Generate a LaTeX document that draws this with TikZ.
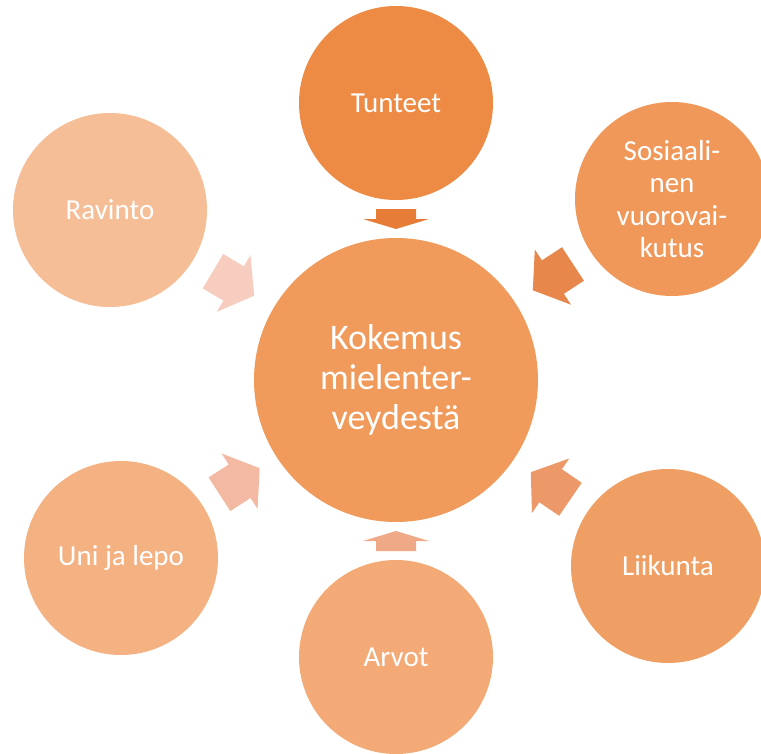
\documentclass[tikz,border=0pt]{standalone}
\usepackage{fontspec}
\setmainfont{Carlito}
\usetikzlibrary{decorations.markings}
\definecolor{cCtr}{HTML}{F09A5B}
\definecolor{cTun}{HTML}{ED8B45}
\definecolor{cSos}{HTML}{F0985A}
\definecolor{cLii}{HTML}{F09F64}
\definecolor{cArv}{HTML}{F3AA77}
\definecolor{cUni}{HTML}{F4B283}
\definecolor{cRav}{HTML}{F5BE96}
\definecolor{aTun}{HTML}{E67C35}
\definecolor{aSos}{HTML}{E7874B}
\definecolor{aLii}{HTML}{EC9868}
\definecolor{aArv}{HTML}{EFA987}
\definecolor{aUni}{HTML}{F3B9A3}
\definecolor{aRav}{HTML}{F6CDBF}
\tikzset{
  sat/.style={circle, minimum size=194pt, inner sep=0pt, text=white,
    font=\fontsize{29}{32.5}\selectfont, align=center},
  hub/.style={circle, minimum size=284pt, inner sep=0pt, fill=cCtr, text=white,
    font=\fontsize{36}{40}\selectfont, align=center},
  gaparrow/.style 2 args={postaction={decorate, decoration={markings,
    mark=at position 0.5 with {\fill[#1] (-#2,-20) -- (0,-20) -- (0,-33) -- (#2,0)
      -- (0,33) -- (0,20) -- (-#2,20) -- cycle;}}}}
}
\begin{document}
\begin{tikzpicture}[x=1pt,y=-1pt]
\fill[white] (0,0) rectangle (761,753);
\clip (0,0) rectangle (761,753);
\node[hub] (ctr) at (396,380) {Kokemus\\mielenter-\\veydestä};
\node[sat, fill=cTun] (tun) at (396,103) {Tunteet};
\node[sat, fill=cSos] (sos) at (672,199) {Sosiaali-\\nen\\vuorovai-\\kutus};
\node[sat, fill=cLii] (lii) at (668,566) {Liikunta};
\node[sat, fill=cArv] (arv) at (396,657) {Arvot};
\node[sat, fill=cUni] (uni) at (121,558) {Uni ja lepo};
\node[sat, fill=cRav] (rav) at (110,210) {Ravinto};
\path[gaparrow={aTun}{10}] (tun) -- (ctr);
\path[gaparrow={aSos}{24}] (sos) -- (ctr);
\path[gaparrow={aLii}{24}] (lii) -- (ctr);
\path[gaparrow={aArv}{10}] (arv) -- (ctr);
\path[gaparrow={aUni}{24}] (uni) -- (ctr);
\path[gaparrow={aRav}{24}] (rav) -- (ctr);
\end{tikzpicture}
\end{document}
